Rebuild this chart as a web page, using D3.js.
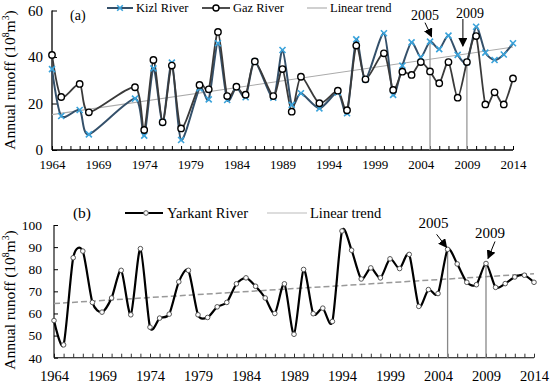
<!DOCTYPE html>
<html><head><meta charset="utf-8">
<script src="https://cdn.jsdelivr.net/npm/d3@7/dist/d3.min.js"></script>
<style>body{margin:0;background:#fff}svg{display:block}text{font-family:"Liberation Serif","Times New Roman",serif;fill:#000}</style>
</head><body><svg id="c" width="550" height="386"></svg>
<script>
// ---- Panel (a) data ----
const yearsA = [1964,1965,1967,1968,1973,1974,1975,1976,1977,1978,1980,1981,1982,1983,1984,1985,1986,1988,1989,1990,1991,1993,1995,1996,1997,1998,2000,2001,2002,2003,2004,2005,2006,2007,2008,2009,2010,2011,2012,2013,2014];
const kizl   = [34.8,14.6,17.2,6.7,22.1,6.2,35.1,12.0,37.6,4.3,26.5,21.8,45.9,21.5,27.0,22.7,38.0,22.5,43.0,19.4,24.4,17.9,24.8,15.8,47.6,30.4,50.2,23.7,36.3,46.3,39.9,46.6,43.4,49.2,40.9,37.8,53.0,41.9,38.7,41.1,45.9];
const gaz    = [40.9,22.8,28.4,16.2,27.0,8.6,38.7,11.9,36.3,9.3,28.0,26.1,50.8,23.2,27.2,23.8,38.1,23.2,34.8,16.5,31.5,20.1,25.5,17.1,44.9,30.4,41.6,25.8,33.7,32.3,37.8,33.8,28.7,37.8,22.5,37.8,49.0,19.6,24.8,19.6,30.8];
const trendAYears = [1964,2014];
const trendA = [15.2,44.3];
const ticksAY = [0,20,40,60];
// ---- Panel (b) data ----
const yearsB = d3.range(1964,2015);
const yarkant = [56.8,45.8,85.2,88.2,65.0,60.6,67.0,79.5,59.4,89.3,53.8,57.9,59.7,74.3,79.5,59.4,58.2,63.0,65.0,73.4,76.1,72.3,67.0,60.0,73.4,50.6,79.9,59.9,62.4,56.4,97.3,88.6,75.6,80.6,76.1,84.7,80.3,86.7,63.2,70.8,69.0,89.0,82.4,74.1,73.0,82.6,71.8,73.5,76.5,77.3,74.1];
const trendBYears = [1964,2014];
const trendB = [64.5,78.0];
const ticksBY = [40,50,60,70,80,90,100];
const labelYears = [1964,1969,1974,1979,1984,1989,1994,1999,2004,2009,2014];
const markYears = [2005,2009];

const svg = d3.select("#c");

function yLabel(cx, cy, size){
  const t = svg.append("text").attr("transform",`translate(${cx},${cy}) rotate(-90)`)
    .attr("text-anchor","middle").attr("font-size",size);
  t.append("tspan").text("Annual runoff (10");
  t.append("tspan").attr("font-size",size*0.62).attr("dy",-size*0.38).text("8");
  t.append("tspan").attr("dy",size*0.38).text("m");
  t.append("tspan").attr("font-size",size*0.62).attr("dy",-size*0.38).text("3");
  t.append("tspan").attr("dy",size*0.38).text(")");
}
function arrow(x1,y1,x2,y2){
  svg.append("line").attr("x1",x1).attr("y1",y1).attr("x2",x2).attr("y2",y2)
    .attr("stroke","#000").attr("stroke-width",1).attr("marker-end","url(#ah)");
}
svg.append("defs").append("marker").attr("id","ah").attr("viewBox","0 0 10 10")
  .attr("refX",9).attr("refY",5).attr("markerWidth",9).attr("markerHeight",9)
  .attr("markerUnits","userSpaceOnUse").attr("orient","auto")
  .append("path").attr("d","M0,0L10,5L0,10z").attr("fill","#000");

const allYears = d3.range(1964,2015);
const fmtYear = d => labelYears.includes(d) ? String(d) : "";

// ================= Panel (a) =================
const xA = d3.scaleLinear().domain([1964,2014]).range([52,513]);
const yA = d3.scaleLinear().domain([0,60]).range([150,10.5]);
const gA = svg.append("g");
gA.append("g").attr("transform","translate(0,150)")
  .call(d3.axisBottom(xA).tickValues(allYears).tickFormat(fmtYear).tickSize(-4).tickPadding(10))
  .call(g=>{g.select(".domain").attr("d","M52,0H513").attr("stroke","#000").attr("stroke-width",1.3);
    g.selectAll("text").attr("font-size",13).attr("font-family","Liberation Serif");});
gA.append("g").attr("transform","translate(52,0)")
  .call(d3.axisLeft(yA).tickValues(ticksAY).tickSize(-5).tickPadding(9))
  .call(g=>{g.select(".domain").attr("d","M0,10.5V150").attr("stroke","#000").attr("stroke-width",1.3);
    g.selectAll("text").attr("font-size",15).attr("font-family","Liberation Serif");});
yLabel(15,80,15.5);
// trend
gA.append("path").datum(trendAYears.map((y,i)=>[y,trendA[i]]))
  .attr("d",d3.line().x(d=>xA(d[0])).y(d=>yA(d[1]))).attr("stroke","#aaa").attr("stroke-width",1.1).attr("fill","none");
// vertical markers
const vA = {2005: kizl[yearsA.indexOf(2005)], 2009: gaz[yearsA.indexOf(2009)]};
markYears.forEach(yr=>{
  gA.append("line").attr("x1",xA(yr)).attr("x2",xA(yr)).attr("y1",yA(vA[yr])).attr("y2",yA(0))
    .attr("stroke","#999").attr("stroke-width",1.3);
});
const curve = d3.curveCardinal.tension(0.25);
const lineA = d3.line().curve(curve);
const kPts = yearsA.map((y,i)=>[xA(y),yA(kizl[i])]);
const gPts = yearsA.map((y,i)=>[xA(y),yA(gaz[i])]);
gA.append("path").attr("d",lineA(kPts)).attr("fill","none").attr("stroke","#34506a").attr("stroke-width",2);
gA.append("path").attr("d",lineA(gPts)).attr("fill","none").attr("stroke","#3a3a3a").attr("stroke-width",1.8);
function xMark(g,x,y,s){
  g.append("path").attr("d",`M${x-s},${y-s}L${x+s},${y+s}M${x-s},${y+s}L${x+s},${y-s}`)
    .attr("stroke","#3aa3db").attr("stroke-width",1.6).attr("fill","none");
}
kPts.forEach(p=>xMark(gA,p[0],p[1],3));
gPts.forEach(p=>gA.append("circle").attr("cx",p[0]).attr("cy",p[1]).attr("r",3.2)
  .attr("fill","#fff").attr("stroke","#000").attr("stroke-width",1.4));
// legend (a)
svg.append("text").attr("x",70).attr("y",19.5).attr("font-size",14).text("(a)");
svg.append("line").attr("x1",107).attr("x2",133).attr("y1",8).attr("y2",8).attr("stroke","#34506a").attr("stroke-width",2);
xMark(svg,120,8,2.8);
svg.append("text").attr("x",136).attr("y",12).attr("font-size",12.5).text("Kizl River");
svg.append("line").attr("x1",202).attr("x2",230).attr("y1",8).attr("y2",8).attr("stroke","#3a3a3a").attr("stroke-width",1.8);
svg.append("circle").attr("cx",216).attr("cy",8).attr("r",3).attr("fill","#fff").attr("stroke","#000").attr("stroke-width",1.4);
svg.append("text").attr("x",233).attr("y",12).attr("font-size",12.5).text("Gaz River");
svg.append("line").attr("x1",307).attr("x2",327).attr("y1",8).attr("y2",8).attr("stroke","#aaa").attr("stroke-width",1.1);
svg.append("text").attr("x",330).attr("y",12).attr("font-size",12.5).text("Linear trend");
// annotations (a)
svg.append("text").attr("x",xA(2005)-5).attr("y",20).attr("text-anchor","middle").attr("font-size",14).text("2005");
arrow(xA(2005)-5,yA(vA[2005])-19,xA(2005)+1.5,yA(vA[2005])-5);
svg.append("text").attr("x",xA(2009)+3).attr("y",18).attr("text-anchor","middle").attr("font-size",14).text("2009");
arrow(xA(2009)-4,19,xA(2009)-4,yA(vA[2009])-16);

// ================= Panel (b) =================
const xB = d3.scaleLinear().domain([1964,2014]).range([54,534]);
const yB = d3.scaleLinear().domain([40,100]).range([357.7,225]);
const gB = svg.append("g");
gB.append("g").attr("transform","translate(0,357.7)")
  .call(d3.axisBottom(xB).tickValues(allYears).tickFormat(fmtYear).tickSize(-4).tickPadding(13))
  .call(g=>{g.select(".domain").attr("d","M54,0H534").attr("stroke","#000").attr("stroke-width",1.1);
    g.selectAll("line").attr("stroke","#333");
    g.selectAll("text").attr("font-size",14.5).attr("font-family","Liberation Serif");});
gB.append("g").attr("transform","translate(54,0)")
  .call(d3.axisLeft(yB).tickValues(ticksBY).tickSize(-4).tickPadding(12))
  .call(g=>{g.select(".domain").attr("d","M0,225V357.7").attr("stroke","#000").attr("stroke-width",1.1);
    g.selectAll("text").attr("font-size",13.5).attr("font-family","Liberation Serif");});
yLabel(15,300,15.5);
gB.append("path").datum(trendBYears.map((y,i)=>[y,trendB[i]]))
  .attr("d",d3.line().x(d=>xB(d[0])).y(d=>yB(d[1]))).attr("stroke","#999").attr("stroke-width",1.5)
  .attr("stroke-dasharray","6,3").attr("fill","none");
const vB = {2005: yarkant[yearsB.indexOf(2005)], 2009: yarkant[yearsB.indexOf(2009)]};
markYears.forEach(yr=>{
  gB.append("line").attr("x1",xB(yr)).attr("x2",xB(yr)).attr("y1",yB(vB[yr])).attr("y2",yB(40))
    .attr("stroke","#888").attr("stroke-width",1.3);
});
const yPts = yearsB.map((y,i)=>[xB(y),yB(yarkant[i])]);
gB.append("path").attr("d",d3.line().curve(curve)(yPts)).attr("fill","none").attr("stroke","#000").attr("stroke-width",2.2);
yPts.forEach(p=>gB.append("circle").attr("cx",p[0]).attr("cy",p[1]).attr("r",2.3)
  .attr("fill","#fff").attr("stroke","#555").attr("stroke-width",1));
// legend (b)
svg.append("text").attr("x",82).attr("y",218).attr("text-anchor","middle").attr("font-size",15.5).text("(b)");
svg.append("line").attr("x1",125).attr("x2",163).attr("y1",213).attr("y2",213).attr("stroke","#000").attr("stroke-width",2.2);
svg.append("circle").attr("cx",146).attr("cy",213).attr("r",2.3).attr("fill","#fff").attr("stroke","#555").attr("stroke-width",1);
svg.append("text").attr("x",167).attr("y",218).attr("font-size",14.5).text("Yarkant River");
svg.append("line").attr("x1",267).attr("x2",307).attr("y1",213).attr("y2",213).attr("stroke","#bbb").attr("stroke-width",1.2);
svg.append("text").attr("x",310).attr("y",218).attr("font-size",14.5).text("Linear trend");
// annotations (b)
svg.append("text").attr("x",xB(2005)-14).attr("y",228).attr("text-anchor","middle").attr("font-size",15).text("2005");
arrow(xB(2005)-11,yB(vB[2005])-15,xB(2005)-1,yB(vB[2005])-2);
svg.append("text").attr("x",xB(2009)+4).attr("y",238).attr("text-anchor","middle").attr("font-size",15).text("2009");
arrow(xB(2009)+9,yB(vB[2009])-22,xB(2009)+2,yB(vB[2009])-5);
</script></body></html>
